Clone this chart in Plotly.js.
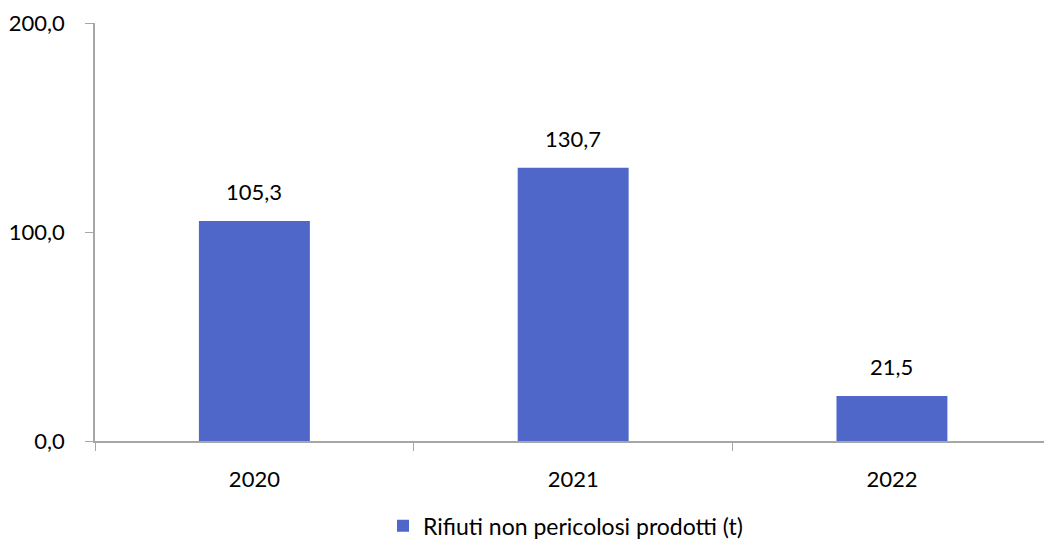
<!DOCTYPE html>
<html>
<head>
<meta charset="utf-8">
<script src="https://cdn.plot.ly/plotly-3.0.1.min.js"></script>
<style>
  html, body { margin: 0; padding: 0; background: #ffffff; }
  #chart { width: 1044px; height: 540px; }
</style>
</head>
<body>
<div id="chart"></div>
<script>
// Rifiuti non pericolosi prodotti, per anno (tonnellate)
const years = ['2020', '2021', '2022'];
const wasteTonnes = [105.3, 130.7, 21.5];
const seriesName = 'Rifiuti non pericolosi prodotti (t)';
const yTickValues = [0, 100, 200];
const yTickLabels = ['0,0', '100,0', '200,0'];

const barColor = '#4F67C8';
const axisColor = '#A6A6A6';
const fontFamily = 'Lato, "Open Sans", sans-serif';

// Italian decimal comma
const fmt = v => v.toFixed(1).replace('.', ',');

const trace = {
  type: 'bar',
  x: years,
  y: wasteTonnes,
  name: seriesName,
  marker: { color: barColor },
  hoverinfo: 'skip'
};

// value labels above each bar
const annotations = wasteTonnes.map((v, i) => ({
  x: i,
  y: v,
  xref: 'x',
  yref: 'y',
  text: fmt(v),
  showarrow: false,
  xanchor: 'center',
  yanchor: 'bottom',
  yshift: 14,
  font: { family: fontFamily, size: 22, color: '#000000' }
}));

const layout = {
  width: 1044,
  height: 540,
  margin: { l: 95, r: 0, t: 23, b: 99, pad: 0 },
  paper_bgcolor: '#ffffff',
  plot_bgcolor: '#ffffff',
  font: { family: fontFamily, size: 22, color: '#000000' },
  bargap: 0.652,
  showlegend: true,
  legend: {
    orientation: 'h',
    x: 0.4958,
    xanchor: 'center',
    yref: 'container',
    y: 0.066,
    yanchor: 'top',
    font: { family: fontFamily, size: 23, color: '#000000' },
    itemwidth: 30
  },
  xaxis: {
    type: 'category',
    range: [-0.5, 2.477],
    showline: true,
    linecolor: axisColor,
    linewidth: 1.5,
    ticks: 'outside',
    tickson: 'boundaries',
    ticklen: 8,
    tickcolor: axisColor,
    tickwidth: 1,
    showgrid: false,
    zeroline: false,
    ticklabelstandoff: 18,
    tickfont: { family: fontFamily, size: 22, color: '#000000' }
  },
  yaxis: {
    range: [0, 200],
    tickvals: yTickValues,
    ticktext: yTickLabels,
    showline: true,
    linecolor: axisColor,
    linewidth: 1.5,
    ticks: 'outside',
    ticklen: 8,
    tickcolor: axisColor,
    tickwidth: 1,
    showgrid: false,
    zeroline: false,
    ticklabelstandoff: 16,
    tickfont: { family: fontFamily, size: 22, color: '#000000' }
  },
  annotations: annotations
};

Plotly.newPlot('chart', [trace], layout, { displayModeBar: false });
</script>
</body>
</html>
